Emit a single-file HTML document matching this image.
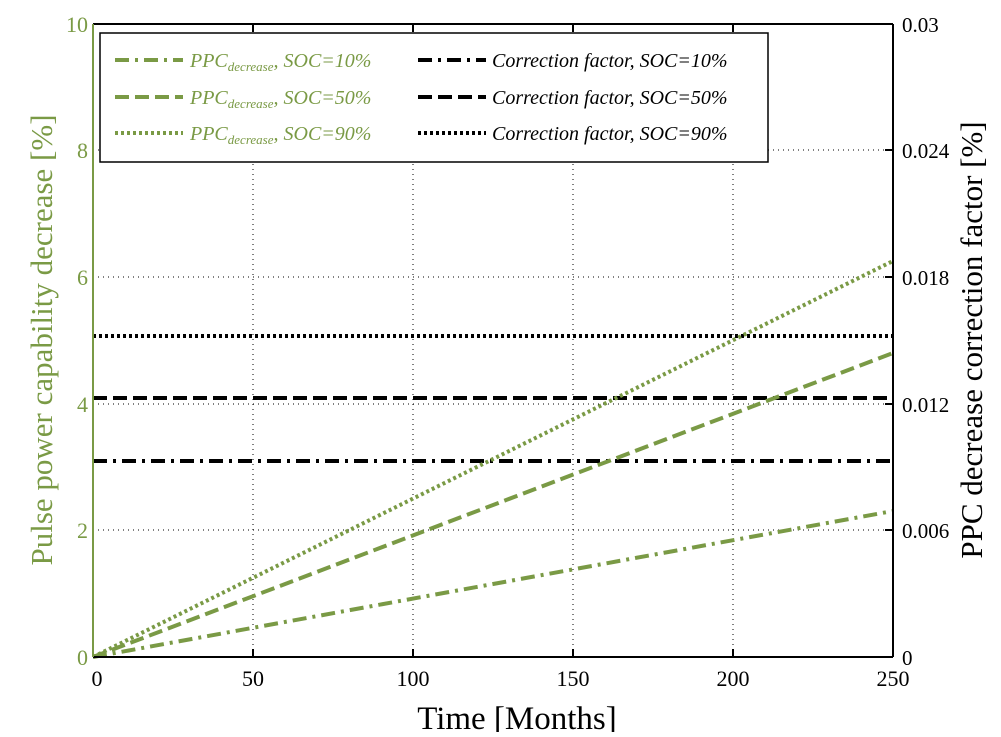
<!DOCTYPE html><html><head><style>body{margin:0;background:#fff}</style></head><body>
<svg width="1001" height="732" xmlns="http://www.w3.org/2000/svg" font-family="Liberation Serif, serif">
<g stroke="#000" stroke-width="1" stroke-dasharray="1,4">
<line x1="253" y1="24" x2="253" y2="657"/><line x1="413" y1="24" x2="413" y2="657"/><line x1="573" y1="24" x2="573" y2="657"/><line x1="733" y1="24" x2="733" y2="657"/>
<line x1="93" y1="530" x2="893" y2="530"/><line x1="93" y1="404" x2="893" y2="404"/><line x1="93" y1="277" x2="893" y2="277"/><line x1="93" y1="150" x2="893" y2="150"/>
</g>
<g stroke-width="4" fill="none">
<line x1="93" y1="461" x2="893" y2="461" stroke="#000" stroke-dasharray="14,6,3,6"/>
<line x1="93" y1="398" x2="893" y2="398" stroke="#000" stroke-dasharray="14,6"/>
<line x1="93" y1="336" x2="893" y2="336" stroke="#000" stroke-dasharray="3,3"/>
<path d="M93 657 L893 511" stroke="#7a9a45" stroke-dasharray="14,6,3,6"/>
<path d="M93 657 L893 353" stroke="#7a9a45" stroke-dasharray="14,6"/>
<path d="M93 657 L893 261" stroke="#7a9a45" stroke-dasharray="3,3"/>
</g>
<line x1="93" y1="24" x2="893" y2="24" stroke="#000" stroke-width="2"/>
<line x1="93" y1="657" x2="893" y2="657" stroke="#000" stroke-width="2"/>
<line x1="893" y1="24" x2="893" y2="657" stroke="#000" stroke-width="2"/>
<line x1="93" y1="24" x2="93" y2="657" stroke="#7a9a45" stroke-width="2"/>
<g stroke="#000" stroke-width="2">
<line x1="253" y1="657" x2="253" y2="649"/><line x1="413" y1="657" x2="413" y2="649"/><line x1="573" y1="657" x2="573" y2="649"/><line x1="733" y1="657" x2="733" y2="649"/>
<line x1="253" y1="24" x2="253" y2="32"/><line x1="413" y1="24" x2="413" y2="32"/><line x1="573" y1="24" x2="573" y2="32"/><line x1="733" y1="24" x2="733" y2="32"/>
<line x1="893" y1="530" x2="885" y2="530"/><line x1="893" y1="404" x2="885" y2="404"/><line x1="893" y1="277" x2="885" y2="277"/><line x1="893" y1="150" x2="885" y2="150"/>
</g>
<g fill="#7a9a45" font-size="22" text-anchor="end">
<text x="88" y="665">0</text><text x="88" y="538">2</text><text x="88" y="412">4</text><text x="88" y="285">6</text><text x="88" y="158">8</text><text x="88" y="32">10</text>
</g>
<g fill="#000" font-size="21">
<text x="902" y="665">0</text><text x="902" y="538">0.006</text><text x="902" y="412">0.012</text><text x="902" y="285">0.018</text><text x="902" y="158">0.024</text><text x="902" y="32">0.03</text>
</g>
<g fill="#000" font-size="22" text-anchor="middle">
<text x="97" y="686">0</text><text x="253" y="686">50</text><text x="413" y="686">100</text><text x="573" y="686">150</text><text x="733" y="686">200</text><text x="893" y="686">250</text>
</g>
<text x="517" y="729" font-size="33" text-anchor="middle">Time [Months]</text>
<text transform="translate(52,340) rotate(-90)" font-size="31" fill="#7a9a45" text-anchor="middle">Pulse power capability decrease [%]</text>
<text transform="translate(982,340) rotate(-90)" font-size="31" fill="#000" text-anchor="middle">PPC decrease correction factor [%]</text>
<rect x="100" y="33" width="668" height="129" fill="#fff" stroke="#000" stroke-width="1.5"/>
<g stroke-width="4">
<line x1="115" y1="60" x2="183" y2="60" stroke="#7a9a45" stroke-dasharray="14,6,3,6"/>
<line x1="115" y1="97" x2="183" y2="97" stroke="#7a9a45" stroke-dasharray="14,6"/>
<line x1="115" y1="133" x2="183" y2="133" stroke="#7a9a45" stroke-dasharray="3,3"/>
<line x1="418" y1="60" x2="486" y2="60" stroke="#000" stroke-dasharray="14,6,3,6"/>
<line x1="418" y1="97" x2="486" y2="97" stroke="#000" stroke-dasharray="14,6"/>
<line x1="418" y1="133" x2="486" y2="133" stroke="#000" stroke-dasharray="3,3"/>
</g>
<g font-size="20" font-style="italic" fill="#7a9a45">
<text x="190" y="67">PPC<tspan font-size="13" dy="4">decrease</tspan><tspan dy="-4">, SOC=10%</tspan></text>
<text x="190" y="104">PPC<tspan font-size="13" dy="4">decrease</tspan><tspan dy="-4">, SOC=50%</tspan></text>
<text x="190" y="140">PPC<tspan font-size="13" dy="4">decrease</tspan><tspan dy="-4">, SOC=90%</tspan></text>
</g>
<g font-size="20" font-style="italic" fill="#000">
<text x="492" y="67">Correction factor, SOC=10%</text>
<text x="492" y="104">Correction factor, SOC=50%</text>
<text x="492" y="140">Correction factor, SOC=90%</text>
</g>
</svg></body></html>
